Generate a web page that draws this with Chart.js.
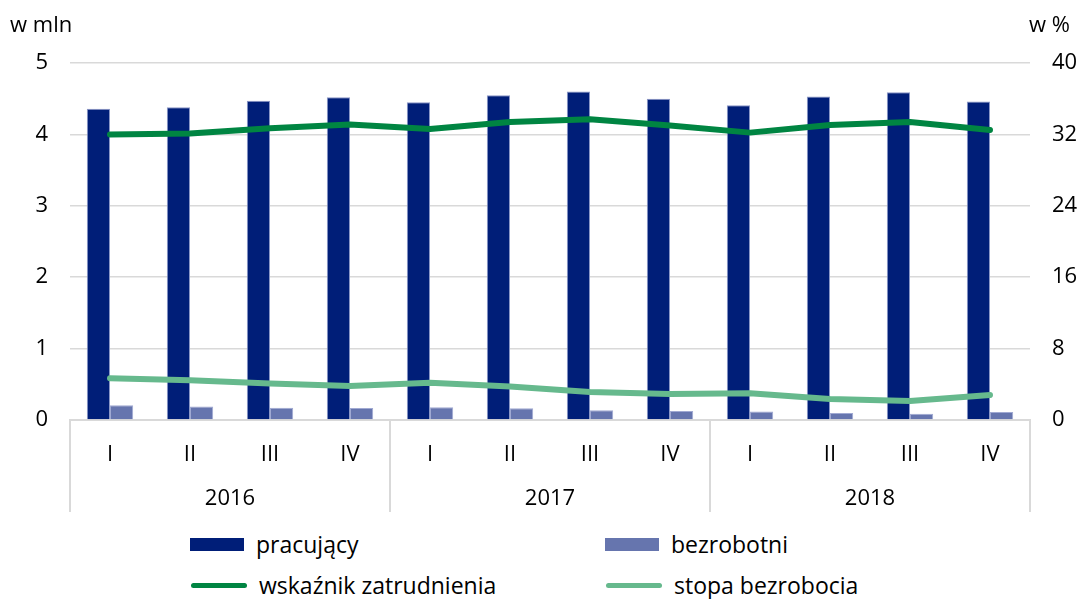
<!DOCTYPE html>
<html><head><meta charset="utf-8">
<script src="https://cdn.jsdelivr.net/npm/chart.js@4.4.1/dist/chart.umd.min.js"></script>
<style>
html,body{margin:0;padding:0;background:#fff;}
#wrap{position:relative;width:1080px;height:599px;overflow:hidden;font-family:"Open Sans",sans-serif;}
#c{position:absolute;left:0;top:0;}
.leg{position:absolute;display:flex;align-items:center;font-size:23px;color:#000;white-space:nowrap;height:30px;}
.sw{display:inline-block;margin-right:12px;}
</style></head>
<body><div id="wrap"><canvas id="c" width="1080" height="520"></canvas><div id="legend"></div></div>
<script>
const quarters = ['I','II','III','IV','I','II','III','IV','I','II','III','IV'];
const years = ['2016','2017','2018'];
const pracujacy = [4.36,4.38,4.47,4.52,4.45,4.55,4.60,4.50,4.41,4.53,4.59,4.46];
const bezrobotni = [0.205,0.19,0.17,0.168,0.177,0.163,0.135,0.126,0.12,0.098,0.089,0.112];
const wskaznik = [32.0,32.1,32.7,33.1,32.6,33.4,33.7,33.0,32.2,33.05,33.4,32.5];
const stopa = [4.67,4.44,4.1,3.8,4.18,3.74,3.14,2.91,2.99,2.35,2.13,2.8];
const seriesNames = ['pracujący','bezrobotni','wskaźnik zatrudnienia','stopa bezrobocia'];
const leftUnit = 'w mln';
const rightUnit = 'w %';

const C_NAVY = '#001E78', C_BLUE = '#6675AE', C_GREEN = '#008542', C_LGREEN = '#66B98D';
const GRID = '#d9d9d9';
const FONT = '"Open Sans", sans-serif';

const unitsPlugin = {
  id: 'units',
  afterDraw(chart) {
    const ctx = chart.ctx;
    ctx.save();
    ctx.font = '22px ' + FONT;
    ctx.fillStyle = '#000';
    ctx.textBaseline = 'alphabetic';
    ctx.textAlign = 'left';
    ctx.fillText(leftUnit, chart.scales.y.left + 10, 32);
    ctx.textAlign = 'right';
    ctx.fillText(rightUnit, chart.scales.y1.right - 10, 32);
    ctx.restore();
  }
};

// vertical separators between years, derived from the category scale
const groupPlugin = {
  id: 'groups',
  afterDraw(chart) {
    const x = chart.scales.x, x2 = chart.scales.x2;
    const ctx = chart.ctx;
    const per = quarters.length / years.length;
    const xs = [x.left];
    for (let g = 1; g < years.length; g++) {
      xs.push((x.getPixelForTick(g * per - 1) + x.getPixelForTick(g * per)) / 2);
    }
    xs.push(x.right);
    ctx.save();
    ctx.strokeStyle = GRID;
    ctx.lineWidth = 2;
    ctx.beginPath();
    xs.forEach(px => {
      ctx.moveTo(Math.round(px), chart.chartArea.bottom);
      ctx.lineTo(Math.round(px), x2.bottom);
    });
    ctx.stroke();
    ctx.restore();
  }
};

const chart = new Chart(document.getElementById('c'), {
  type: 'bar',
  data: {
    labels: quarters,
    datasets: [
      { type:'bar', label: seriesNames[0], data: pracujacy, backgroundColor: C_NAVY, borderColor:'#8a96c6', borderWidth:{top:1,left:1,right:1,bottom:0}, yAxisID:'y', order:1,
        categoryPercentage:0.58, barPercentage:1 },
      { type:'bar', label: seriesNames[1], data: bezrobotni, backgroundColor: C_BLUE, borderColor:'#a0a9d2', borderWidth:{top:1,left:1,right:1,bottom:0}, yAxisID:'y', order:1,
        categoryPercentage:0.58, barPercentage:1 },
      { type:'line', label: seriesNames[2], data: wskaznik, borderColor: C_GREEN, backgroundColor: C_GREEN, borderWidth:6, pointRadius:0, tension:0, yAxisID:'y1', order:0, borderCapStyle:'round', borderJoinStyle:'round' },
      { type:'line', label: seriesNames[3], data: stopa, borderColor: C_LGREEN, backgroundColor: C_LGREEN, borderWidth:6, pointRadius:0, tension:0, yAxisID:'y1', order:0, borderCapStyle:'round', borderJoinStyle:'round' }
    ]
  },
  options: {
    responsive:false,
    animation:false,
    events:[],
    layout:{ padding:{ top:63, bottom:8, left:0, right:0 } },
    plugins:{ legend:{display:false}, tooltip:{enabled:false}, title:{display:false} },
    scales:{
      x:{
        type:'category', position:'bottom', offset:true,
        grid:{ display:false, drawTicks:false },
        border:{ display:true, color:GRID, width:2 },
        ticks:{ font:{ family:FONT, size:22, lineHeight:'24px' }, color:'#000', padding:23, maxRotation:0, autoSkip:false },
        afterFit:(s)=>{ s.height = 45; }
      },
      x2:{
        type:'category', position:'bottom', offset:true, labels: years,
        grid:{ display:false, drawTicks:false },
        border:{ display:false },
        ticks:{ font:{ family:FONT, size:22, lineHeight:'24px' }, color:'#000', padding:22, maxRotation:0, autoSkip:false },
        afterFit:(s)=>{ s.height = 47; }
      },
      y:{
        position:'left', min:0, max:5,
        ticks:{ stepSize:1, font:{ family:FONT, size:22 }, color:'#000', padding:22 },
        grid:{ color:GRID, lineWidth:1.5, drawTicks:false },
        border:{ display:false },
        afterFit:(s)=>{ s.width = 70; }
      },
      y1:{
        position:'right', min:0, max:40,
        ticks:{ stepSize:8, font:{ family:FONT, size:22 }, color:'#000', padding:22 },
        grid:{ drawOnChartArea:false, drawTicks:false },
        border:{ display:false },
        afterFit:(s)=>{ s.width = 50; }
      }
    }
  },
  plugins:[unitsPlugin, groupPlugin]
});

// HTML legend built from the chart's datasets
const legend = document.getElementById('legend');
const legPos = [ {x:190, y:529}, {x:605, y:529}, {x:190, y:570}, {x:605, y:570} ];
chart.data.datasets.forEach((ds, i) => {
  const item = document.createElement('div');
  item.className = 'leg';
  item.style.left = legPos[i].x + 'px';
  item.style.top = legPos[i].y + 'px';
  const sw = document.createElement('span');
  sw.className = 'sw';
  if (ds.type === 'bar') {
    sw.style.width = '54px'; sw.style.height = '13px'; sw.style.background = ds.backgroundColor;
  } else {
    sw.style.width = '56px'; sw.style.height = '5px'; sw.style.background = ds.borderColor; sw.style.borderRadius = '3px';
    sw.style.marginLeft = '1px';
  }
  item.appendChild(sw);
  const t = document.createElement('span');
  t.textContent = ds.label;
  item.appendChild(t);
  legend.appendChild(item);
});
</script>
</body></html>
